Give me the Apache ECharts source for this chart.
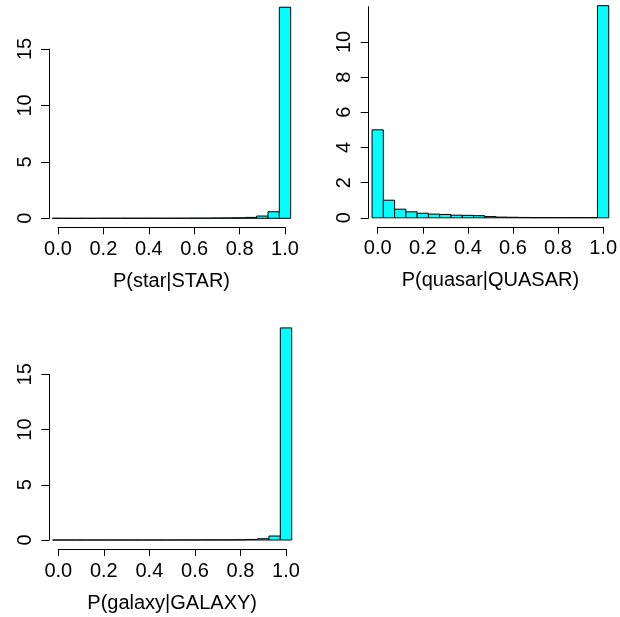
<!DOCTYPE html>
<html>
<head>
<meta charset="utf-8">
<script src="https://cdn.jsdelivr.net/npm/echarts@6/dist/echarts.min.js"></script>
<style>
  html, body { margin: 0; padding: 0; background: #fff; }
  #chart { width: 620px; height: 617px; }
</style>
</head>
<body>
<div id="chart"></div>
<script>
// histogram bins (centres), width 0.05
const binCenters = [0, 0.05, 0.1, 0.15, 0.2, 0.25, 0.3, 0.35, 0.4, 0.45, 0.5,
  0.55, 0.6, 0.65, 0.7, 0.75, 0.8, 0.85, 0.9, 0.95, 1.0];
const binWidth = 0.05;

// densities
const starDensity = [0, 0, 0, 0, 0.005, 0.005, 0.01, 0.01, 0.01, 0.01, 0.01,
  0.015, 0.02, 0.02, 0.03, 0.04, 0.05, 0.08, 0.2, 0.58, 18.7];
const quasarDensity = [5.0, 1.0, 0.49, 0.34, 0.26, 0.21, 0.19, 0.15, 0.14, 0.12, 0.07,
  0.04, 0.03, 0.02, 0.01, 0.01, 0.01, 0.01, 0.01, 0.01, 12.06];
const galaxyDensity = [0, 0, 0, 0, 0, 0, 0, 0, 0, 0, 0,
  0.005, 0.005, 0.01, 0.01, 0.01, 0.02, 0.05, 0.12, 0.36, 19.2];

const axisTitles = ['P(star|STAR)', 'P(quasar|QUASAR)', 'P(galaxy|GALAXY)'];
const xTicks = { min: 0, max: 1, interval: 0.2 };
const yTicks = [
  { min: 0, max: 15, interval: 5 },
  { min: 0, max: 12, interval: 2 },
  { min: 0, max: 15, interval: 5 }
];

const FONT = '"Liberation Sans", Helvetica, Arial, sans-serif';
const INK = '#000';

// grids span exactly the tick range (R draws axes only between ticks)
const grids = [
  { left: 58, top: 49, width: 227, height: 169.3 },
  { left: 377.7, top: 6.7, width: 228, height: 211.1 },
  { left: 58.3, top: 374.3, width: 227.7, height: 165.7 }
];

function makeXAxis(i) {
  return {
    type: 'value', gridIndex: i,
    min: xTicks.min, max: xTicks.max, interval: xTicks.interval,
    position: 'bottom', offset: 9,
    axisLine: { show: true, onZero: false, lineStyle: { color: INK, width: 1 } },
    axisTick: { show: true, length: 7, lineStyle: { color: INK, width: 1 } },
    splitLine: { show: false },
    axisLabel: {
      color: INK, fontSize: 20, fontFamily: FONT, margin: 12,
      formatter: v => v.toFixed(1)
    },
    name: axisTitles[i], nameLocation: 'middle', nameGap: 44,
    nameTextStyle: { color: INK, fontSize: 20, fontFamily: FONT }
  };
}

function makeYAxis(i) {
  return {
    type: 'value', gridIndex: i,
    min: yTicks[i].min, max: yTicks[i].max, interval: yTicks[i].interval,
    position: 'left', offset: 9,
    axisLine: { show: true, onZero: false, lineStyle: { color: INK, width: 1 } },
    axisTick: { show: true, length: 8, lineStyle: { color: INK, width: 1 } },
    splitLine: { show: false },
    axisLabel: {
      color: INK, fontSize: 20, fontFamily: FONT, margin: 14, rotate: 90,
      showMaxLabel: i !== 1
    }
  };
}

function histSeries(i, density) {
  return {
    type: 'custom', xAxisIndex: i, yAxisIndex: i, clip: false,
    data: binCenters.map((c, k) => [c, density[k]]),
    renderItem: (params, api) => {
      const c = api.value(0);
      const h = api.value(1);
      const p0 = api.coord([c - binWidth / 2, 0]);
      const p1 = api.coord([c + binWidth / 2, h]);
      return {
        type: 'rect',
        shape: { x: p0[0], y: p1[1], width: p1[0] - p0[0], height: p0[1] - p1[1] },
        style: { fill: '#00ffff', stroke: INK, lineWidth: 1 }
      };
    }
  };
}

const chart = echarts.init(document.getElementById('chart'), null, { renderer: 'canvas' });
chart.setOption({
  animation: false,
  backgroundColor: '#fff',
  grid: grids,
  xAxis: [0, 1, 2].map(makeXAxis),
  yAxis: [0, 1, 2].map(makeYAxis),
  series: [
    histSeries(0, starDensity),
    histSeries(1, quasarDensity),
    histSeries(2, galaxyDensity)
  ]
});
</script>
</body>
</html>
